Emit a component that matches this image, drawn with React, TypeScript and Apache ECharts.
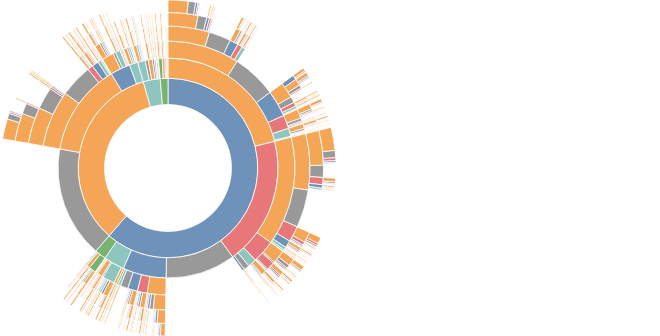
import React, { useEffect, useRef } from "react";
import * as echarts from "echarts";

type T = [string, number, T[]?];

const categoryNames: Record<string, string> = {
  b: "Search", o: "Product", r: "Cart", t: "Account", g: "Checkout", x: "End", p: "Other",
};
const categoryColors: Record<string, string> = {
  b: "#6e92b9", o: "#f4a556", r: "#e8777a", t: "#8fc5bf", g: "#78b36f", x: "#999999", p: "#f4b6bd",
};
const levelRadii: [number, number][] = [
  [63.5, 89.8], [89.8, 110], [110, 127], [127, 142], [142, 155.5], [155.5, 168],
];

const blueBranch: T = ["b", 221, [
  ["o", 76, [
    ["o", 33, [
      ["o", 17, [
        ["o", 11.2, [["o", 7], ["x", 2.5], ["b", 0.8], ["r", 0.5], ["t", 0.3]]],
        ["x", 3.3],
        ["b", 1.0, [["o", 0.5]]],
        ["r", 0.8, [["o", 0.4]]],
        ["t", 0.5, [["o", 0.3]]],
      ]],
      ["x", 9],
      ["b", 3.5, [["o", 1.8, [["o", 0.9], ["x", 0.4], ["r", 0.2]]], ["x", 0.7], ["r", 0.4, [["o", 0.3]]], ["t", 0.3, [["o", 0.25]]]]],
      ["r", 2.0, [["o", 1.0, [["o", 0.6], ["x", 0.2]]], ["x", 0.4], ["b", 0.3, [["o", 0.25]]]]],
      ["t", 1.5, [["o", 0.8, [["o", 0.5], ["t", 0.2]]], ["x", 0.3], ["r", 0.2, [["o", 0.2]]]]],
    ]],
    ["x", 20.5],
    ["b", 12.1, [
      ["o", 6.5, [
        ["b", 1.8, [["o", 1.1], ["x", 0.4]]],
        ["o", 2.5, [["o", 1.3], ["x", 0.5], ["b", 0.3]]],
        ["x", 1.2],
        ["r", 0.5, [["o", 0.4]]],
      ]],
      ["x", 2.5],
      ["r", 1.6, [["o", 0.8, [["o", 0.5]]], ["x", 0.3], ["r", 0.3, [["o", 0.25]]]]],
      ["t", 1.0, [["o", 0.6, [["o", 0.45]]], ["r", 0.2]]],
      ["g", 0.3],
    ]],
    ["r", 6.2, [
      ["o", 3.8, [["o", 2.0, [["o", 1.1], ["x", 0.4], ["r", 0.2]]], ["x", 0.7], ["r", 0.5, [["o", 0.4]]], ["t", 0.3, [["o", 0.25]]], ["b", 0.2, [["o", 0.2]]]]],
      ["x", 1.2],
      ["b", 0.5, [["o", 0.35, [["o", 0.25]]]]],
      ["r", 0.4, [["o", 0.3]]],
    ]],
    ["t", 3.7, [
      ["o", 2.0, [["o", 1.0, [["o", 0.6]]], ["x", 0.4], ["r", 0.3, [["o", 0.25]]], ["b", 0.2, [["o", 0.2]]]]],
      ["x", 0.8],
      ["b", 0.3, [["o", 0.25, [["o", 0.2]]]]],
      ["r", 0.2],
    ]],
    ["g", 0.5, [["o", 0.35, [["o", 0.25]]]]],
  ]],
  ["r", 68, [
    ["o", 50, [
      ["o", 23, [
        ["o", 13, [["o", 8], ["x", 2.5], ["r", 1.0], ["b", 0.6], ["t", 0.4]]],
        ["x", 4.5],
        ["r", 2.7, [["o", 1.3], ["x", 0.6], ["b", 0.2]]],
        ["b", 1.3, [["o", 0.6], ["x", 0.3]]],
        ["t", 0.7, [["o", 0.4]]],
      ]],
      ["x", 15.5],
      ["r", 6.5, [
        ["o", 4.0, [["o", 2.2], ["r", 0.8], ["x", 0.6], ["b", 0.2]]],
        ["r", 1.2, [["o", 0.5], ["x", 0.2]]],
        ["x", 0.6],
        ["b", 0.3],
      ]],
      ["b", 3.0, [["o", 1.2, [["o", 0.6], ["x", 0.2]]], ["x", 0.6], ["r", 0.4, [["o", 0.25]]], ["t", 0.2]]],
      ["t", 1.2, [["o", 0.5, [["o", 0.35]]], ["x", 0.3], ["r", 0.2, [["o", 0.2]]]]],
      ["g", 0.5, [["o", 0.35]]],
    ]],
    ["r", 10.5, [
      ["o", 5.5, [["o", 2.8, [["o", 1.5], ["x", 0.5], ["r", 0.3]]], ["x", 1.3], ["r", 0.6, [["o", 0.35]]], ["b", 0.4, [["o", 0.25]]]]],
      ["x", 0.6],
      ["r", 3.4, [["o", 1.5, [["o", 0.7], ["x", 0.3]]], ["r", 0.6, [["o", 0.35]]], ["x", 0.5], ["b", 0.3]]],
      ["b", 0.5, [["o", 0.35]]],
      ["t", 0.3],
    ]],
    ["t", 4.0, [
      ["o", 2.0, [["o", 1.0, [["o", 0.5]]], ["r", 0.3, [["o", 0.25]]], ["x", 0.3]]],
      ["x", 0.5],
      ["b", 0.4, [["o", 0.35, [["o", 0.25]]]]],
      ["r", 0.4, [["o", 0.35, [["p", 0.25]]]]],
      ["p", 0.2, [["o", 0.2]]],
    ]],
    ["x", 2.5],
    ["b", 1.0, [["o", 0.5, [["p", 0.35, [["o", 0.25]]]]], ["r", 0.3, [["o", 0.25]]]]],
  ]],
  ["x", 37],
  ["b", 23, [
    ["o", 8.5, [
      ["o", 5.0, [["o", 3.0, [["o", 1.6], ["x", 0.6], ["b", 0.3]]], ["x", 0.9], ["b", 0.4, [["o", 0.35]]], ["r", 0.3, [["o", 0.25]]]]],
      ["x", 1.5],
      ["b", 0.9, [["o", 0.5, [["o", 0.4]]], ["x", 0.2]]],
      ["r", 0.6, [["o", 0.45, [["o", 0.35]]]]],
      ["t", 0.4, [["o", 0.35, [["o", 0.25]]]]],
    ]],
    ["r", 4.5, [["o", 2.0, [["o", 1.0, [["o", 0.6]]], ["x", 0.4], ["b", 0.3, [["o", 0.25]]]]], ["x", 0.9], ["b", 0.6, [["o", 0.45, [["o", 0.35]]]]], ["r", 0.4, [["o", 0.35, [["o", 0.25]]]]], ["t", 0.3, [["o", 0.25]]]]],
    ["b", 4.5, [["o", 2.0, [["o", 1.0, [["o", 0.6]]], ["x", 0.4], ["r", 0.3, [["o", 0.25]]]]], ["x", 0.8], ["r", 0.6, [["o", 0.45, [["o", 0.35]]]]], ["t", 0.4, [["o", 0.35, [["o", 0.25]]]]], ["g", 0.2]]],
    ["x", 3.5],
    ["t", 1.2, [["o", 0.7, [["o", 0.5, [["o", 0.4]]]]], ["x", 0.3], ["g", 0.2, [["o", 0.2]]]]],
    ["g", 0.8, [["o", 0.55, [["o", 0.45, [["o", 0.35]]]]], ["x", 0.2]]],
  ]],
  ["t", 11, [
    ["o", 1.2, [["o", 0.8, [["o", 0.6, [["o", 0.5]]]]], ["x", 0.3]]],
    ["t", 5.6, [["o", 2.0, [["o", 1.0, [["o", 0.6]]], ["x", 0.4], ["t", 0.3, [["o", 0.25]]]]], ["x", 1.0], ["t", 0.8, [["o", 0.6, [["o", 0.5]]]]], ["b", 0.5, [["o", 0.4, [["o", 0.35]]]]], ["r", 0.4, [["o", 0.35, [["o", 0.3]]]]], ["g", 0.3, [["o", 0.25]]]]],
    ["b", 0.6, [["o", 0.5, [["o", 0.4, [["o", 0.35]]]]]]],
    ["o", 2.2, [["o", 1.0, [["o", 0.7, [["o", 0.55]]]]], ["x", 0.4], ["g", 0.3, [["o", 0.25]]], ["r", 0.2]]],
    ["r", 0.5, [["o", 0.4, [["o", 0.3]]]]],
    ["g", 0.4, [["o", 0.35, [["o", 0.3]]]]],
  ]],
  ["g", 6, [
    ["g", 3.2, [["o", 1.3, [["o", 0.8, [["o", 0.6]]], ["x", 0.2]]], ["x", 0.6], ["g", 0.5, [["o", 0.4, [["o", 0.35]]]]], ["t", 0.3, [["o", 0.25]]], ["b", 0.2]]],
    ["o", 1.6, [["o", 0.8, [["o", 0.6, [["o", 0.5]]]]], ["x", 0.3], ["r", 0.2]]],
    ["t", 0.6, [["o", 0.45, [["o", 0.35]]]]],
    ["b", 0.3, [["o", 0.25]]],
  ]],
]];

const orangeBranch: T = ["o", 123, [
  ["x", 59],
  ["o", 49, [
    ["o", 26, [
      ["o", 15, [
        ["o", 10.5, [["o", 7], ["x", 2], ["r", 0.6], ["b", 0.4]]],
        ["x", 4],
        ["r", 0.5, [["o", 0.45]]],
      ]],
      ["x", 9],
      ["r", 0.8, [["o", 0.65, [["o", 0.55]]], ["t", 0.15]]],
      ["b", 0.6, [["o", 0.5, [["o", 0.4]]]]],
      ["t", 0.4, [["o", 0.35, [["o", 0.3]]]]],
    ]],
    ["x", 15],
    ["r", 2.5, [["o", 1.0, [["o", 0.7, [["o", 0.55]]], ["x", 0.2]]], ["x", 0.4], ["b", 0.4, [["o", 0.35, [["o", 0.3]]]]], ["t", 0.3, [["o", 0.25]]], ["p", 0.2]]],
    ["b", 3.0, [["o", 1.3, [["o", 0.8, [["o", 0.6]]], ["r", 0.3, [["o", 0.25]]]]], ["x", 0.5], ["r", 0.4, [["o", 0.35, [["o", 0.3]]]]], ["t", 0.3, [["o", 0.3, [["o", 0.25]]]]], ["p", 0.2]]],
    ["t", 1.5, [["o", 0.7, [["o", 0.6, [["o", 0.5]]]]], ["x", 0.3], ["b", 0.3, [["o", 0.25]]]]],
    ["g", 0.5, [["o", 0.4, [["o", 0.3]]]]],
  ]],
  ["b", 10.5, [
    ["o", 5.4, [
      ["o", 2.2, [["o", 1.0, [["o", 0.75]]], ["x", 0.4], ["r", 0.3, [["o", 0.25]]]]],
      ["x", 0.8],
      ["r", 0.6, [["o", 0.5, [["o", 0.4]]]]],
      ["b", 0.5, [["o", 0.45, [["o", 0.35]]]]],
      ["t", 0.4, [["o", 0.35, [["o", 0.3]]]]],
      ["p", 0.2],
    ]],
    ["x", 1.2],
    ["t", 2.2, [["o", 0.9, [["o", 0.7, [["o", 0.55]]]]], ["x", 0.4], ["t", 0.4, [["o", 0.35, [["o", 0.3]]]]], ["b", 0.3, [["o", 0.25]]]]],
    ["p", 0.3, [["o", 0.25]]],
    ["r", 0.6, [["o", 0.5, [["o", 0.4, [["o", 0.3]]]]]]],
    ["g", 0.4, [["o", 0.3]]],
  ]],
  ["t", 4.5, [["o", 1.6, [["o", 0.9, [["o", 0.6]]], ["x", 0.3], ["r", 0.2]]], ["x", 0.8], ["t", 0.9, [["o", 0.6, [["o", 0.5]]]]], ["r", 0.4, [["o", 0.35, [["o", 0.3]]]]], ["b", 0.3, [["o", 0.25]]]]],
]];

const tealBranch: T = ["t", 11, [
  ["t", 4, [["o", 1.6, [["o", 0.9, [["o", 0.65]]], ["x", 0.3], ["b", 0.2]]], ["x", 0.8], ["t", 0.6, [["o", 0.5, [["o", 0.4]]]]], ["b", 0.4, [["o", 0.35, [["o", 0.3]]]]], ["r", 0.3, [["o", 0.25]]]]],
  ["x", 1.6],
  ["o", 2.2, [["o", 1.1, [["o", 0.7, [["o", 0.5]]], ["x", 0.2]]], ["x", 0.4], ["r", 0.3, [["o", 0.25, [["o", 0.2]]]]], ["t", 0.2]]],
  ["b", 1, [["o", 0.6, [["o", 0.45, [["o", 0.35]]]]], ["x", 0.2]]],
  ["r", 0.7, [["o", 0.5, [["o", 0.4, [["o", 0.3]]]]]]],
  ["p", 0.3, [["o", 0.25]]],
  ["g", 0.6, [["o", 0.5, [["o", 0.4, [["o", 0.3]]]]]]],
]];

const greenBranch: T = ["g", 5, [
  ["g", 2, [["o", 0.9, [["o", 0.6, [["o", 0.5]]]]], ["x", 0.4], ["g", 0.3, [["o", 0.25]]], ["t", 0.2]]],
  ["o", 1.4, [["o", 0.8, [["o", 0.6, [["o", 0.5]]]]], ["x", 0.3]]],
  ["x", 0.6],
  ["b", 0.5, [["o", 0.4, [["o", 0.3]]]]],
  ["t", 0.4, [["o", 0.3]]],
]];

const branches: T[] = [blueBranch, orangeBranch, tealBranch, greenBranch];

function toNode(n: T): any {
  const [code, value, children] = n;
  const node: any = {
    name: categoryNames[code],
    value,
    itemStyle: { color: categoryColors[code] },
  };
  if (children && children.length) node.children = children.map(toNode);
  return node;
}

export default function App() {
  const ref = useRef<HTMLDivElement>(null);
  useEffect(() => {
    if (!ref.current) return;
    const chart = echarts.init(ref.current, undefined, { renderer: "svg" });
    chart.setOption({
      animation: false,
      series: [
        {
          type: "sunburst",
          center: [168, 168],
          sort: null,
          nodeClick: false,
          startAngle: 90,
          clockwise: true,
          data: branches.map(toNode),
          label: { show: false },
          emphasis: { disabled: true },
          itemStyle: { borderColor: "#ffffff", borderWidth: 0.8 },
          levels: [{}, ...levelRadii.map(([r0, r]) => ({ r0, r }))],
        },
      ],
    });
    return () => chart.dispose();
  }, []);
  return (
    <div
      ref={ref}
      style={{ position: "fixed", left: 0, top: 0, width: 660, height: 336, background: "#fff" }}
    />
  );
}
